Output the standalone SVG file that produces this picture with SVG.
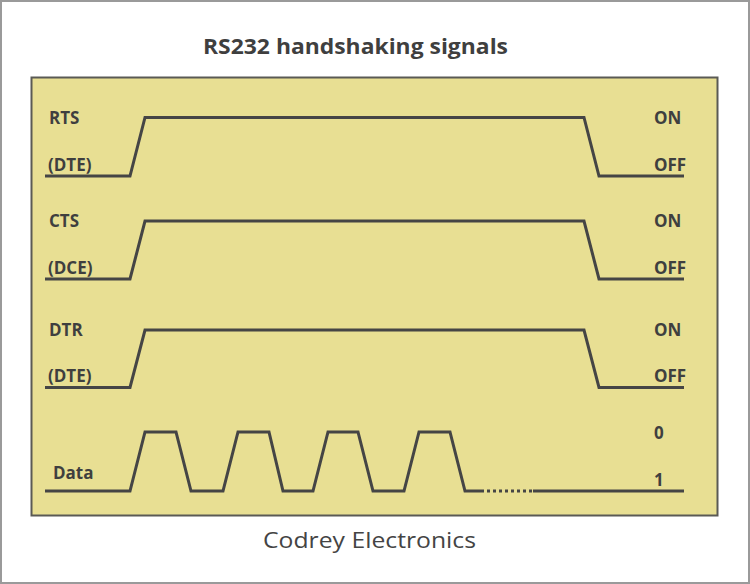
<svg xmlns="http://www.w3.org/2000/svg" width="750" height="584" viewBox="0 0 750 584">
<style>
.sig{fill:none;stroke:#454545;stroke-width:3;stroke-linejoin:miter}
.lbl{font-family:"Open Sans","DejaVu Sans",sans-serif;font-weight:bold;font-size:17px;fill:#3f3f3f}
.title{font-family:"Open Sans","DejaVu Sans",sans-serif;font-weight:bold;font-size:21px;fill:#3f3f3f}
.foot{font-family:"Open Sans","DejaVu Sans",sans-serif;font-size:22px;fill:#444}
</style>
<rect x="1" y="1" width="748" height="582" fill="#fff" stroke="#9a9a9a" stroke-width="2"/>
<text class="title" x="355.5" y="54" text-anchor="middle" textLength="305" lengthAdjust="spacingAndGlyphs">RS232 handshaking signals</text>
<rect id="panel" x="31.5" y="77.5" width="686" height="438" fill="#e8df93" stroke="#5a5a55" stroke-width="2"/>
<g id="connectors">
<polyline class="sig" points="45,176 130,176 145,117.5 584,117.5 599,176 684,176"/>
<polyline class="sig" points="45,279 130,279 145,221 584,221 599,279 684,279"/>
<polyline class="sig" points="45,387.5 130,387.5 145,330 584,330 599,387.5 684,387.5"/>
<polyline class="sig" points="45,491 130,491 145,432 176,432 191,491 223,491 238,432 269,432 283,491 313,491 328,432 358,432 373,491 404,491 419,432 450,432 465,491 481,491"/>
<line class="sig" x1="481" y1="491" x2="533" y2="491" stroke-dasharray="3,3"/>
<line class="sig" x1="533" y1="491" x2="684" y2="491"/>
</g>
<g id="rts">
<text class="lbl" x="49" y="124">RTS</text>
<text class="lbl" x="48" y="171">(DTE)</text>
<text class="lbl" x="654" y="124">ON</text>
<text class="lbl" x="654" y="171">OFF</text>
</g>
<g id="cts">
<text class="lbl" x="49" y="227">CTS</text>
<text class="lbl" x="48" y="274">(DCE)</text>
<text class="lbl" x="654" y="227">ON</text>
<text class="lbl" x="654" y="274">OFF</text>
</g>
<g id="dtr">
<text class="lbl" x="49" y="336">DTR</text>
<text class="lbl" x="48" y="382">(DTE)</text>
<text class="lbl" x="654" y="336">ON</text>
<text class="lbl" x="654" y="382">OFF</text>
</g>
<g id="data">
<text class="lbl" x="53" y="479">Data</text>
<text class="lbl" x="654" y="439">0</text>
<text class="lbl" x="654" y="486">1</text>
</g>
<text class="foot" x="369.5" y="548" text-anchor="middle" textLength="213" lengthAdjust="spacingAndGlyphs">Codrey Electronics</text>
</svg>
